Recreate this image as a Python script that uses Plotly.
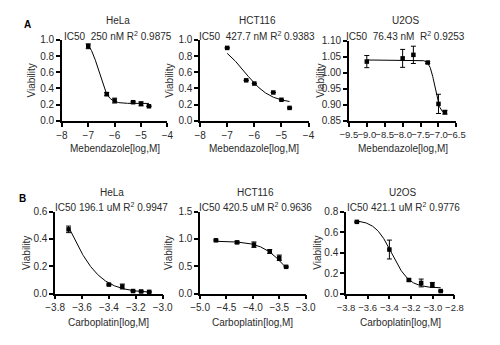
import numpy as np
import plotly.graph_objects as go

# ---------------- data ----------------
# Panel A: Mebendazole
a_hela_x = [-7.0, -6.3, -6.0, -5.3, -5.0, -4.7]
a_hela_y = [0.92, 0.33, 0.25, 0.23, 0.21, 0.18]
a_hela_e = [0.03, 0.02, 0.03, 0.01, 0.025, 0.0]
a_hela_fit = dict(top=1.0, bottom=0.215, logic50=-6.6, hill=2.5)

a_hct_x = [-7.0, -6.3, -6.0, -5.3, -5.0, -4.7]
a_hct_y = [0.90, 0.50, 0.46, 0.35, 0.26, 0.16]
a_hct_e = [0, 0, 0, 0, 0, 0]
a_hct_fit = dict(top=1.0, bottom=0.215, logic50=-6.37, hill=0.9)

a_u2os_x = [-9.0, -8.0, -7.7, -7.3, -7.0, -6.82]
a_u2os_y = [1.035, 1.045, 1.056, 1.032, 0.903, 0.877]
a_u2os_e = [0.019, 0.028, 0.027, 0.003, 0.03, 0.006]
a_u2os_fit = dict(top=1.04, bottom=0.87, logic50=-7.1, hill=6.0)

# Panel B: Carboplatin
b_hela_x = [-3.70, -3.40, -3.30, -3.22, -3.16, -3.10]
b_hela_y = [0.47, 0.066, 0.052, 0.019, 0.016, 0.013]
b_hela_e = [0.024, 0.004, 0.018, 0.004, 0.004, 0.004]
b_hela_fit = dict(top=1.0, bottom=0.005, logic50=-3.7075, hill=3.6)

b_hct_x = [-4.70, -4.30, -3.98, -3.68, -3.50, -3.37]
b_hct_y = [0.975, 0.937, 0.895, 0.77, 0.655, 0.49]
b_hct_e = [0.01, 0.02, 0.05, 0.035, 0.05, 0.0]
b_hct_fit = dict(top=0.96, bottom=0.0, logic50=-3.376, hill=1.9)

b_u2os_x = [-3.70, -3.40, -3.22, -3.107, -3.004, -2.927]
b_u2os_y = [0.70, 0.43, 0.133, 0.104, 0.085, 0.025]
b_u2os_e = [0.005, 0.092, 0.01, 0.038, 0.024, 0.0]
b_u2os_fit = dict(top=0.72, bottom=0.055, logic50=-3.376, hill=5.5)

titles = ["HeLa", "HCT116", "U2OS", "HeLa", "HCT116", "U2OS"]
subtitles = ["IC50  250 nM R<sup>2</sup> 0.9875",
             "IC50  427.7 nM R<sup>2</sup> 0.9383",
             "IC50  76.43 nM  R<sup>2</sup> 0.9253",
             "IC50 196.1 uM R<sup>2</sup> 0.9947",
             "IC50 420.5 uM R<sup>2</sup> 0.9636",
             "IC50 421.1 uM R<sup>2</sup> 0.9776"]
xtitles = ["Mebendazole[log,M]"] * 3 + ["Carboplatin[log,M]"] * 3
ytitle = "Viability"

panels = [
    (a_hela_x, a_hela_y, a_hela_e, a_hela_fit),
    (a_hct_x, a_hct_y, a_hct_e, a_hct_fit),
    (a_u2os_x, a_u2os_y, a_u2os_e, a_u2os_fit),
    (b_hela_x, b_hela_y, b_hela_e, b_hela_fit),
    (b_hct_x, b_hct_y, b_hct_e, b_hct_fit),
    (b_u2os_x, b_u2os_y, b_u2os_e, b_u2os_fit),
]

# axis settings: (xrange, xdtick, xfmt, yrange, ydtick, yfmt)
axes_cfg = [
    ([-8, -4], 1, "d", [0, 1.0], 0.2, ".1f"),
    ([-8, -4], 1, "d", [0, 1.0], 0.2, ".1f"),
    ([-9.5, -6.5], 0.5, ".1f", [0.85, 1.10], 0.05, ".2f"),
    ([-3.8, -3.0], 0.2, ".1f", [0, 0.6], 0.2, ".1f"),
    ([-5.0, -3.0], 0.5, ".1f", [0, 1.5], 0.5, ".1f"),
    ([-3.8, -2.8], 0.2, ".1f", [0, 0.8], 0.2, ".1f"),
]

# layout boxes in pixels (left, right, top, bottom)
W, H = 500, 345
boxes = [
    (54, 164, 35, 119),
    (198, 311, 35, 119),
    (353, 465, 36, 119),
    (47, 159, 213, 298),
    (198, 308, 213, 298),
    (350, 463, 213, 298),
]
ytitle_x = [22, 166, 324, 17, 165, 320]
xtick_size = [10, 10, 9.5, 10, 10, 9.5]


def fx(px):
    return px / W


def fy(py):
    return 1 - py / H


def hill(x, p):
    x = np.asarray(x)
    return p["bottom"] + (p["top"] - p["bottom"]) / (1 + 10 ** ((x - p["logic50"]) * p["hill"]))


FONT = "Liberation Sans, Arial, sans-serif"
TXT = "#2a2a2a"

fig = go.Figure()
annotations = []
layout_axes = {}

for i, ((xs, ys, es, fit), cfg, box) in enumerate(zip(panels, axes_cfg, boxes)):
    n = i + 1
    xa = "x" if n == 1 else f"x{n}"
    ya = "y" if n == 1 else f"y{n}"
    xr, xd, xf, yr, yd, yf = cfg
    l, r, t, b = box

    cx = np.linspace(min(xs), max(xs), 200)
    fig.add_trace(go.Scatter(x=cx, y=hill(cx, fit), mode="lines",
                             line=dict(color="black", width=1),
                             xaxis=xa, yaxis=ya, showlegend=False, hoverinfo="skip"))
    fig.add_trace(go.Scatter(x=xs, y=ys, mode="markers",
                             marker=dict(color="black", size=4.5, symbol="square"),
                             error_y=dict(type="data", array=es, visible=True,
                                          color="black", thickness=1, width=2.5),
                             xaxis=xa, yaxis=ya, showlegend=False, cliponaxis=False))

    common = dict(showline=True, linecolor="black", linewidth=1.5, ticks="outside",
                  ticklen=4, tickwidth=1.5, tickcolor="black", showgrid=False,
                  zeroline=False, tickangle=0)
    layout_axes["xaxis" if n == 1 else f"xaxis{n}"] = dict(
        common, domain=[fx(l), fx(r)], range=xr, dtick=xd, tick0=0, tickformat=xf,
        anchor=ya, fixedrange=True,
        tickfont=dict(family=FONT, size=xtick_size[i], color=TXT))
    layout_axes["yaxis" if n == 1 else f"yaxis{n}"] = dict(
        common, domain=[fy(b), fy(t)], range=yr, dtick=yd, tick0=0, tickformat=yf,
        anchor=xa, fixedrange=True,
        tickfont=dict(family=FONT, size=10, color=TXT))

    top_row = n <= 3
    cxp = fx((l + r) / 2 + 3)
    annotations.append(dict(text=titles[i], x=cxp, y=fy(15 if top_row else 193),
                            xref="paper", yref="paper", showarrow=False,
                            xanchor="center", yanchor="middle",
                            font=dict(family=FONT, size=10, color=TXT)))
    annotations.append(dict(text=subtitles[i], x=cxp, y=fy(31 if top_row else 208),
                            xref="paper", yref="paper", showarrow=False,
                            xanchor="center", yanchor="middle",
                            font=dict(family=FONT, size=10, color=TXT)))
    annotations.append(dict(text=xtitles[i], x=fx((l + r) / 2), y=fy(148 if top_row else 328),
                            xref="paper", yref="paper", showarrow=False,
                            xanchor="center", yanchor="middle",
                            font=dict(family=FONT, size=10, color=TXT)))
    annotations.append(dict(text=ytitle, x=fx(ytitle_x[i]), y=fy((t + b) / 2),
                            xref="paper", yref="paper", showarrow=False, textangle=-90,
                            xanchor="center", yanchor="middle",
                            font=dict(family=FONT, size=10, color=TXT)))

annotations.append(dict(text="<b>A</b>", x=fx(18), y=fy(19), xref="paper", yref="paper",
                        showarrow=False, xanchor="center", yanchor="middle",
                        font=dict(family=FONT, size=10, color="black")))
annotations.append(dict(text="<b>B</b>", x=fx(13), y=fy(199), xref="paper", yref="paper",
                        showarrow=False, xanchor="center", yanchor="middle",
                        font=dict(family=FONT, size=10, color="black")))

fig.update_layout(
    width=W, height=H, margin=dict(l=0, r=0, t=0, b=0),
    paper_bgcolor="white", plot_bgcolor="white",
    annotations=annotations, showlegend=False,
    font=dict(family=FONT, size=10, color=TXT),
    **layout_axes,
)

fig.write_html("out.html", config=dict(displayModeBar=False))
